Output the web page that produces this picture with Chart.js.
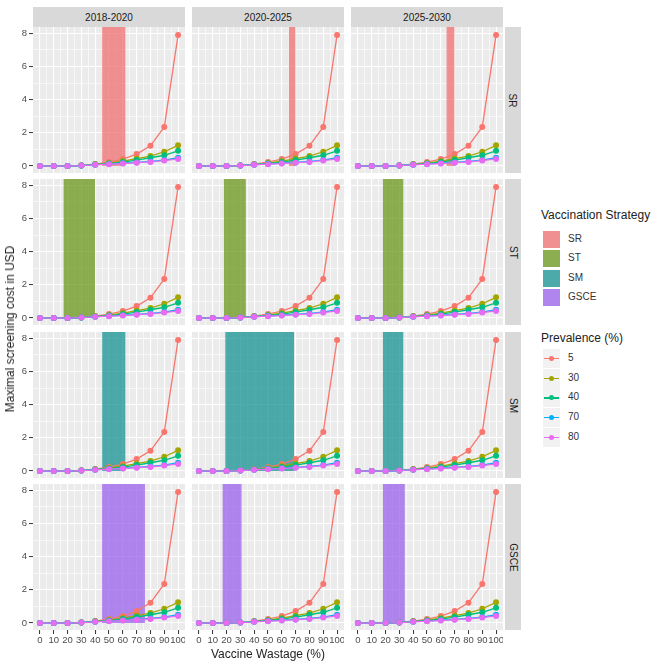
<!DOCTYPE html>
<html>
<head>
<meta charset="utf-8">
<script src="https://cdn.jsdelivr.net/npm/chart.js@4"></script>
<style>
  body { margin: 0; background: #fff; font-family: "Liberation Sans", Arial, sans-serif; }
  #wrap { position: relative; width: 661px; height: 668px; overflow: hidden; }
  #wrap canvas { position: absolute; }
  .strip { position: absolute; background: #D9D9D9; color: #1A1A1A; font-size: 10px;
           display: flex; align-items: center; justify-content: center; }
  .strip.side span { transform: rotate(90deg); white-space: nowrap; }
  .title { position: absolute; color: #222; font-size: 12px; white-space: nowrap; }
  .lkey { position: absolute; width: 17px; height: 17px; background: #F2F2F2; }
  .llab { position: absolute; font-size: 10px; color: #333; }
</style>
</head>
<body>
<div id="wrap"></div>
<script>
// data
const wastage = [0, 10, 20, 30, 40, 50, 60, 70, 80, 90, 100];
const prevalence = ['5', '30', '40', '70', '80'];
const prev5  = [0, 0, 0, 0.04, 0.12, 0.24, 0.42, 0.72, 1.22, 2.36, 7.9];
const prev30 = [0, 0, 0, 0.03, 0.10, 0.18, 0.30, 0.45, 0.60, 0.86, 1.25];
const prev40 = [0, 0, 0, 0.03, 0.09, 0.15, 0.24, 0.36, 0.50, 0.65, 0.92];
const prev70 = [0, 0, 0, 0.03, 0.08, 0.12, 0.17, 0.22, 0.28, 0.36, 0.50];
const prev80 = [0, 0, 0, 0.03, 0.07, 0.11, 0.15, 0.20, 0.25, 0.33, 0.43];
const series = [prev5, prev30, prev40, prev70, prev80];

const periods = ['2018-2020', '2020-2025', '2025-2030'];
const strategies = ['SR', 'ST', 'SM', 'GSCE'];
// wastage range shaded per strategy, one [from, to] per period
const shadeSR   = [[45, 62], [65, 70], [64, 70]];
const shadeST   = [[17, 40], [18, 34], [18, 33]];
const shadeSM   = [[45, 62], [19, 69], [18, 33]];
const shadeGSCE = [[45, 76], [17, 31], [18, 34]];
const shades = [shadeSR, shadeST, shadeSM, shadeGSCE];

const prevColors = ['#F8766D', '#A3A500', '#00BF7D', '#00B0F6', '#E76BF3'];
const stratColors = ['rgba(240,105,105,0.72)', 'rgba(105,150,25,0.75)',
                     'rgba(20,145,145,0.75)', 'rgba(150,90,235,0.72)'];

// layout
const panelLeft = [33, 192, 351];
const panelTop = [27, 179, 332, 484];
const panelW = 152, panelH = 146;
const yAxisW = 24, xAxisH = 22;
const xMin = -5, xMax = 105, yMin = -0.42, yMax = 8.38;
const fontFamily = '"Liberation Sans", Arial, sans-serif';

const wrap = document.getElementById('wrap');

const panelBg = {
  id: 'panelBg',
  beforeDraw(chart) {
    const a = chart.chartArea, c = chart.ctx;
    c.save();
    c.fillStyle = '#EBEBEB';
    c.fillRect(a.left, a.top, a.right - a.left, a.bottom - a.top);
    c.restore();
  }
};

function inRange(v, lo, hi) { return v >= lo - 1e-9 && v <= hi + 1e-9; }

function noPad(s) {
  s.paddingTop = 0; s.paddingBottom = 0; s.paddingLeft = 0; s.paddingRight = 0;
}

function makePanel(r, c) {
  const left = c === 0, bottom = r === 3;
  const w = panelW + (left ? yAxisW : 0), h = panelH + (bottom ? xAxisH : 0);
  const canvas = document.createElement('canvas');
  canvas.width = w; canvas.height = h;
  canvas.style.width = w + 'px'; canvas.style.height = h + 'px';
  canvas.style.left = (panelLeft[c] - (left ? yAxisW : 0)) + 'px';
  canvas.style.top = panelTop[r] + 'px';
  wrap.appendChild(canvas);

  const datasets = series.map((vals, i) => ({
    label: prevalence[i],
    data: wastage.map((x, k) => ({ x: x, y: vals[k] })),
    borderColor: prevColors[i],
    backgroundColor: prevColors[i],
    borderWidth: 1.3,
    pointRadius: 3,
    pointBorderWidth: 0,
    fill: false,
    order: series.length - 1 - i
  }));
  const range = shades[r][c];
  datasets.push({
    label: strategies[r],
    data: [{ x: range[0], y: yMax }, { x: range[1], y: yMax }],
    fill: 'origin',
    backgroundColor: stratColors[r],
    borderWidth: 0,
    pointRadius: 0,
    order: series.length
  });

  new Chart(canvas, {
    type: 'line',
    data: { datasets: datasets },
    options: {
      responsive: false,
      animation: false,
      devicePixelRatio: 1,
      layout: { padding: 0, autoPadding: false },
      plugins: { legend: { display: false }, tooltip: { enabled: false } },
      scales: {
        x: {
          type: 'linear', min: xMin, max: xMax,
          border: { display: false },
          afterFit(s) { s.height = bottom ? xAxisH : 0; noPad(s); },
          grid: {
            color: ctx => inRange(ctx.tick.value, 0, 100) ? '#FFFFFF' : 'rgba(0,0,0,0)',
            lineWidth: ctx => ctx.tick.value % 10 === 0 ? 1.1 : 0.6,
            drawTicks: bottom, tickLength: 4, tickWidth: 1,
            tickColor: ctx => (ctx.tick.value % 10 === 0 && inRange(ctx.tick.value, 0, 100)) ? '#333' : 'rgba(0,0,0,0)'
          },
          ticks: {
            display: bottom, stepSize: 5, autoSkip: false, maxRotation: 0, minRotation: 0,
            includeBounds: false, padding: 1, color: '#4D4D4D',
            font: { size: 9.5, family: fontFamily },
            callback: v => (v % 10 === 0 && inRange(v, 0, 100)) ? String(v) : ''
          }
        },
        y: {
          type: 'linear', min: yMin, max: yMax,
          border: { display: false },
          afterFit(s) { s.width = left ? yAxisW : 0; noPad(s); },
          grid: {
            color: '#FFFFFF',
            lineWidth: ctx => ctx.tick.value % 2 === 0 ? 1.1 : 0.6,
            drawTicks: left, tickLength: 4, tickWidth: 1,
            tickColor: ctx => ctx.tick.value % 2 === 0 ? '#333' : 'rgba(0,0,0,0)'
          },
          ticks: {
            display: left, stepSize: 1, includeBounds: false, padding: 2, color: '#4D4D4D',
            font: { size: 9.5, family: fontFamily },
            callback: v => v % 2 === 0 ? String(v) : ''
          }
        }
      }
    },
    plugins: [panelBg]
  });
}

function addDiv(cls, css, html) {
  const d = document.createElement('div');
  d.className = cls;
  Object.assign(d.style, css);
  if (html !== undefined) d.innerHTML = html;
  wrap.appendChild(d);
  return d;
}

for (let r = 0; r < strategies.length; r++) {
  for (let c = 0; c < periods.length; c++) makePanel(r, c);
}

// facet strips
periods.forEach((p, c) => {
  addDiv('strip', { left: panelLeft[c] + 'px', top: '7px', width: panelW + 'px', height: '20px' }, p);
});
strategies.forEach((s, r) => {
  addDiv('strip side', { left: '505px', top: panelTop[r] + 'px', width: '16px', height: panelH + 'px' },
    '<span>' + s + '</span>');
});

// axis titles
addDiv('title', { left: '268px', top: '647px', transform: 'translateX(-50%)' }, 'Vaccine Wastage (%)');
addDiv('title', { left: '10px', top: '329px', transform: 'translate(-50%,-50%) rotate(-90deg)' },
  'Maximal screening cost in USD');

// legends
addDiv('title', { left: '541px', top: '208px' }, 'Vaccination Strategy');
strategies.forEach((s, i) => {
  const top = 231 + i * 19.3;
  const k = addDiv('lkey', { left: '543px', top: top + 'px' });
  k.style.boxShadow = 'inset 0 0 0 17px ' + stratColors[i];
  addDiv('llab', { left: '568px', top: (top + 2) + 'px' }, s);
});

addDiv('title', { left: '541px', top: '331px' }, 'Prevalence (%)');
prevalence.forEach((p, i) => {
  const top = 349 + i * 19.7;
  const k = addDiv('lkey', { left: '543px', top: top + 'px', height: '19px' });
  const line = document.createElement('div');
  Object.assign(line.style, { position: 'absolute', left: '1px', top: '9px', width: '15px', height: '1.3px', background: prevColors[i] });
  const dot = document.createElement('div');
  Object.assign(dot.style, { position: 'absolute', left: '6px', top: '7px', width: '5px', height: '5px', borderRadius: '50%', background: prevColors[i] });
  k.appendChild(line); k.appendChild(dot);
  addDiv('llab', { left: '568px', top: (top + 3) + 'px' }, p);
});
</script>
</body>
</html>
